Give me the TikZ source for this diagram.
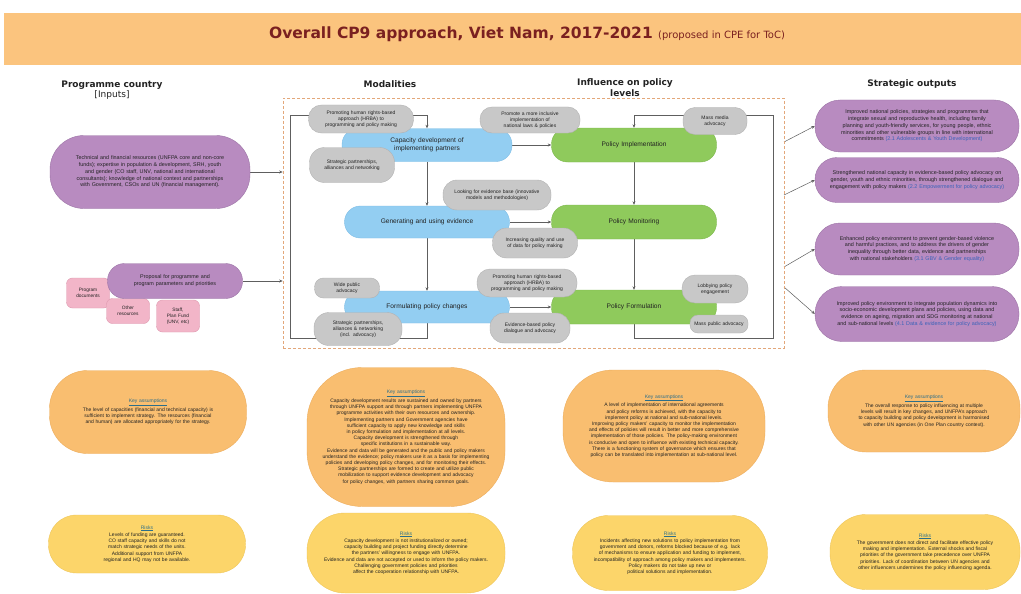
\documentclass[tikz,border=0pt]{standalone}
\usepackage{fontspec}
\setmainfont{Liberation Sans}
\newfontfamily\headfont{DejaVu Sans}
\usetikzlibrary{arrows.meta}
\hyphenpenalty=10000
\exhyphenpenalty=10000
\definecolor{bannerc}{HTML}{FBC47E}
\definecolor{titlec}{HTML}{7A2020}
\definecolor{purpc}{HTML}{B88BC0}
\definecolor{purpd}{HTML}{9C73A6}
\definecolor{pinkc}{HTML}{F2B5C8}
\definecolor{pinkd}{HTML}{DE98AE}
\definecolor{bluec}{HTML}{93CEF2}
\definecolor{blued}{HTML}{7DBDE6}
\definecolor{greenc}{HTML}{8FCA5C}
\definecolor{greend}{HTML}{7DB84C}
\definecolor{grayc}{HTML}{C8C8C8}
\definecolor{grayd}{HTML}{B2B2B2}
\definecolor{orangec}{HTML}{F9BE70}
\definecolor{oranged}{HTML}{EDAE5E}
\definecolor{yellowc}{HTML}{FCD56A}
\definecolor{yellowd}{HTML}{EFC659}
\definecolor{framec}{HTML}{E3A77A}
\definecolor{linec}{HTML}{5E5E5E}
\definecolor{linkc}{HTML}{3A62B8}
\definecolor{headc}{HTML}{2C6E8A}
\definecolor{txtc}{HTML}{222222}
\pgfdeclarelayer{bg}
\pgfsetlayers{bg,main}
\newcommand{\fsz}[2]{\fontsize{#1}{#2}\selectfont}
\tikzset{
  every node/.style={text=txtc},
  pill/.style={rounded corners=#1, align=center, inner sep=1pt},
  inbox/.style={pill=#1, fill=purpc, draw=purpd, line width=0.4pt, font=\fsz{5.4}{6.8}},
  pinkbox/.style={pill=6pt, fill=pinkc, draw=pinkd, line width=0.4pt, font=\fsz{4.8}{5.8}},
  bluebox/.style={pill=16pt, fill=bluec, draw=blued, line width=0.4pt, font=\fsz{6.6}{8}},
  greenbox/.style={pill=16pt, fill=greenc, draw=greend, line width=0.4pt, font=\fsz{6.6}{8}},
  graybox/.style={pill=#1, fill=grayc, draw=grayd, line width=0.4pt, font=\fsz{5}{6}},
  orbox/.style={pill=#1, fill=orangec, draw=oranged, line width=0.4pt, font=\fsz{5}{6.2}},
  yebox/.style={pill=#1, fill=yellowc, draw=yellowd, line width=0.4pt, font=\fsz{5}{6.2}},
  header/.style={align=center, font=\headfont\fsz{9}{11}\bfseries},
  conn/.style={draw=linec, line width=0.5pt, -{Stealth[length=3.5pt,width=3pt]}},
}
\newcommand{\kh}[1]{{\color{headc}\underline{#1}}\\[1.2pt]}
\newcommand{\lk}[1]{{\color{linkc}#1}}
\begin{document}
\begin{tikzpicture}[x=1pt,y=-1pt]
\useasboundingbox (0,0) rectangle (1021,594);
\begin{pgfonlayer}{bg}
\fill[white] (0,0) rectangle (1021,594);
\end{pgfonlayer}

% banner
\node[fill=bannerc, minimum width=1017pt, minimum height=52pt, inner sep=0pt] (banner) at (512.5,39) {};
\node[inner sep=0pt, anchor=base] (title) at (527,39)
  {\color{titlec}\headfont\fsz{15.5}{18}\bfseries Overall CP9 approach, Viet Nam, 2017-2021 {\fsz{10}{12}\mdseries (proposed in CPE for ToC)}};

% headers
\node[header] (h1) at (112,90) {Programme country\\[-1pt]{\mdseries [Inputs]}};
\node[header] (h2) at (390,84) {Modalities};
\node[header] (h3) at (625,88) {Influence on policy\\levels};
\node[header] (h4) at (912,84) {Strategic outputs};

% frame
\node[draw=framec, dash pattern=on 3pt off 2pt, line width=0.6pt, minimum width=501pt, minimum height=250pt, inner sep=0pt] (frame) at (533.5,223) {};

% inputs
\node[inbox=34pt, minimum width=200pt, minimum height=73pt, text width=176pt] (in1) at (150,172)
  {Technical and financial resources (UNFPA core and non-core funds); expertise in population \& development, SRH, youth and gender (CO staff, UNV, national and international consultants); knowledge of national context and partnerships with Government, CSOs and UN (financial management).};
\node[pinkbox, minimum width=43pt, minimum height=30pt, text width=40pt] (pk1) at (88,293) {Program\\documents};
\node[pinkbox, minimum width=43pt, minimum height=25pt, text width=40pt] (pk2) at (128,311) {Other\\resources};
\node[pinkbox, minimum width=43pt, minimum height=32pt, text width=40pt] (pk3) at (178,316) {Staff,\\Plan Fund\\(UNV, etc)};
\node[inbox=17pt, minimum width=135pt, minimum height=35pt, text width=112pt] (in2) at (175,281)
  {Proposal for programme and program parameters and priorities};

% modalities
\node[bluebox, minimum width=170pt, minimum height=33pt, text width=120pt] (cap) at (427,145) {Capacity development of implementing partners};
\node[bluebox, minimum width=165pt, minimum height=32pt, text width=140pt] (gen) at (427,222) {Generating and using evidence};
\node[bluebox, minimum width=165pt, minimum height=32pt, text width=140pt] (form) at (427,307) {Formulating policy changes};

% policy levels
\node[greenbox, minimum width=165pt, minimum height=34pt, text width=140pt] (impl) at (634,145) {Policy Implementation};
\node[greenbox, minimum width=165pt, minimum height=34pt, text width=140pt] (mon) at (634,222) {Policy Monitoring};
\node[greenbox, minimum width=165pt, minimum height=34pt, text width=140pt] (pform) at (634,307) {Policy Formulation};

% gray approach nodes
\node[graybox=13pt, minimum width=105pt, minimum height=28pt, text width=80pt] (g1) at (361,119) {Promoting human rights-based approach (HRBA) to programming and policy making};
\node[graybox=15pt, minimum width=85pt, minimum height=35pt, text width=56pt] (g2) at (352,165) {Strategic partnerships, alliances and networking};
\node[graybox=12pt, minimum width=100pt, minimum height=26pt, text width=82pt] (g3) at (530,120) {Promote a more inclusive implementation of national laws \& policies};
\node[graybox=14pt, minimum width=108pt, minimum height=30pt, text width=86pt] (g4) at (497,195) {Looking for evidence base (innovative models and methodologies)};
\node[graybox=14pt, minimum width=85pt, minimum height=30pt, text width=64pt] (g5) at (535,243) {Increasing quality and use of data for policy making};
\node[graybox=13pt, minimum width=100pt, minimum height=28pt, text width=80pt] (g6) at (527,283) {Promoting human rights-based approach (HRBA) to programming and policy making};
\node[graybox=14pt, minimum width=80pt, minimum height=30pt, text width=60pt] (g7) at (530,328) {Evidence-based policy dialogue and advocacy};
\node[graybox=9pt, minimum width=65pt, minimum height=20pt, text width=44pt] (g8) at (347,288) {Wide public advocacy};
\node[graybox=15pt, minimum width=88pt, minimum height=33pt, text width=64pt] (g9) at (358,329) {Strategic partnerships, alliances \& networking (incl. advocacy)};
\node[graybox=12pt, minimum width=64pt, minimum height=27pt, text width=46pt] (g10) at (715,121) {Mass media advocacy};
\node[graybox=13pt, minimum width=66pt, minimum height=28pt, text width=50pt] (g11) at (715,289) {Lobbying policy engagement};
\node[graybox=8pt, minimum width=58pt, minimum height=18pt, text width=52pt] (g12) at (719,324) {Mass public advocacy};

% strategic outputs
\node[inbox=25pt, minimum width=204pt, minimum height=52pt, text width=180pt] (out1) at (917,126)
  {Improved national policies, strategies and programmes that integrate sexual and reproductive health, including family planning and youth-friendly services, for young people, ethnic minorities and other vulnerable groups in line with international commitments \lk{(2.1 Adolescents \& Youth Development)}};
\node[inbox=22pt, minimum width=204pt, minimum height=45pt, text width=176pt] (out2) at (917,180)
  {Strengthened national capacity in evidence-based policy advocacy on gender, youth and ethnic minorities, through strengthened dialogue and engagement with policy makers \lk{(2.2 Empowerment for policy advocacy)}};
\node[inbox=25pt, minimum width=204pt, minimum height=52pt, text width=182pt] (out3) at (917,249)
  {Enhanced policy environment to prevent gender-based violence and harmful practices, and to address the drivers of gender inequality through better data, evidence and partnerships with national stakeholders \lk{(3.1 GBV \& Gender equality)}};
\node[inbox=27pt, minimum width=204pt, minimum height=55pt, text width=178pt] (out4) at (917,314)
  {Improved policy environment to integrate population dynamics into socio-economic development plans and policies, using data and evidence on ageing, migration and SDG monitoring at national and sub-national levels \lk{(4.1 Data \& evidence for policy advocacy)}};

% key assumptions
\node[orbox=38pt, minimum width=197pt, minimum height=83pt, text width=165pt] (ka1) at (148,412)
  {\kh{Key assumptions}The level of capacities (financial and technical capacity) is sufficient to implement strategy. The resources (financial and human) are allocated appropriately for the strategy.};
\node[orbox=55pt, minimum width=198pt, minimum height=139pt, text width=178pt] (ka2) at (406,437)
  {\kh{Key assumptions}Capacity development results are sustained and owned by partners through UNFPA support and through partners implementing UNFPA programme activities with their own resources and ownership.\\Implementing partners and Government agencies have sufficient capacity to apply new knowledge and skills in policy formulation and implementation at all levels.\\Capacity development is strengthened through specific institutions in a sustainable way.\\Evidence and data will be generated and the public and policy makers understand the evidence; policy makers use it as a basis for implementing policies and developing policy changes, and for monitoring their effects.\\Strategic partnerships are formed to create and utilize public mobilization to support evidence development and advocacy for policy changes, with partners sharing common goals.};
\node[orbox=50pt, minimum width=202pt, minimum height=112pt, text width=178pt] (ka3) at (664,426)
  {\kh{Key assumptions}A level of implementation of international agreements and policy reforms is achieved, with the capacity to implement policy at national and sub-national levels.\\Improving policy makers' capacity to monitor the implementation and effects of policies will result in better and more comprehensive implementation of those policies. The policy-making environment is conducive and open to influence with existing technical capacity. There is a functioning system of governance which ensures that policy can be translated into implementation at sub-national level.};
\node[orbox=38pt, minimum width=192pt, minimum height=82pt, text width=164pt] (ka4) at (924,411)
  {\kh{Key assumptions}The overall response to policy influencing at multiple levels will result in key changes, and UNFPA's approach to capacity building and policy development is harmonised with other UN agencies (in One Plan country context).};

% risks
\node[yebox=28pt, minimum width=197pt, minimum height=58pt, text width=150pt] (r1) at (147,544)
  {\kh{Risks}Levels of funding are guaranteed.\\CO staff capacity and skills do not match strategic needs of the units.\\Additional support from UNFPA regional and HQ may not be available.};
\node[yebox=38pt, minimum width=198pt, minimum height=80pt, text width=176pt] (r2) at (406,553)
  {\kh{Risks}Capacity development is not institutionalized or owned; capacity building and project funding directly determine the partners' willingness to engage with UNFPA.\\Evidence and data are not accepted or used to inform the policy makers.\\Challenging government policies and priorities affect the cooperation relationship with UNFPA.};
\node[yebox=36pt, minimum width=195pt, minimum height=75pt, text width=164pt] (r3) at (670,553)
  {\kh{Risks}Incidents affecting new solutions to policy implementation from government and donors, reforms blocked because of e.g. lack of mechanisms to ensure application and funding to implement, incompatibility of approach among policy makers and implementers.\\Policy makers do not take up new or political solutions and implementation.};
\node[yebox=36pt, minimum width=190pt, minimum height=75pt, text width=160pt] (r4) at (925,552)
  {\kh{Risks}The government does not direct and facilitate effective policy making and implementation. External shocks and fiscal priorities of the government take precedence over UNFPA priorities. Lack of coordination between UN agencies and other influencers undermines the policy influencing agenda.};

% connectors on background
\coordinate (lb) at (290,338);
\coordinate (lt) at (290,115);
\coordinate (rb) at (773,338);
\coordinate (rt) at (773,115);
\coordinate (s1) at (784,142);
\coordinate (s2) at (784,195);
\coordinate (s3) at (784,267);
\coordinate (s4) at (784,287);
\begin{pgfonlayer}{bg}
\draw[conn] (in1.east) -- (in1.east -| frame.west);
\draw[conn] (in2.east) -- (in2.east -| frame.west);
\draw[conn] (cap.south) -- (gen.north);
\draw[conn] (gen.south) -- (form.north);
\draw[conn] (form.south) |- (lb) -- (lt) -| (cap.north);
\draw[conn] (cap.east) -- (impl.west);
\draw[conn] (gen.east) -- (mon.west);
\draw[conn] (form.east) -- (pform.west);
\draw[conn] (impl.south) -- (mon.north);
\draw[conn] (mon.south) -- (pform.north);
\draw[conn] (pform.south) |- (rb) -- (rt) -| (impl.north);
\draw[conn] (s1) -- (out1.west);
\draw[conn] (s2) -- (out2.west);
\draw[conn] (s3) -- (out3.west);
\draw[conn] (s4) -- (out4.west);
\end{pgfonlayer}
\end{tikzpicture}
\end{document}
